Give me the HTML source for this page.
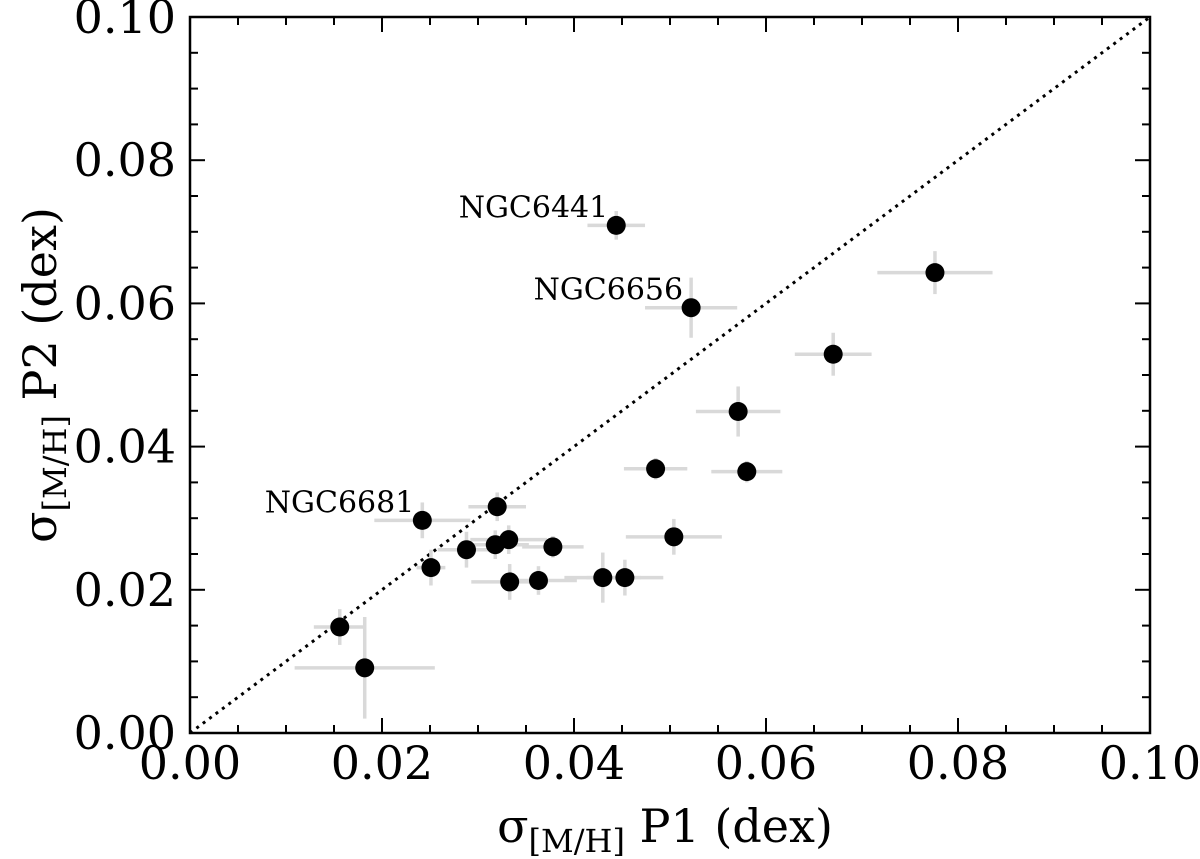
<!DOCTYPE html>
<html><head><meta charset="utf-8"><style>
html,body{margin:0;padding:0;background:#fff}
svg{display:block;font-family:"DejaVu Serif","Liberation Serif",serif}
</style></head><body>
<svg id="chart" width="1200" height="859" viewBox="0 0 1200 859" xmlns="http://www.w3.org/2000/svg">
<g id="diag"></g>
<g id="errs"></g>
<g id="pts"></g>
<g id="labels"></g>
<g id="axes"></g>
<text x="665" y="842" font-size="46" text-anchor="middle">σ<tspan font-size="32" dy="10">[M/H]</tspan><tspan dy="-10"> P1 (dex)</tspan></text>
<text transform="translate(56,375) rotate(-90)" font-size="46" text-anchor="middle">σ<tspan font-size="32" dy="10">[M/H]</tspan><tspan dy="-10"> P2 (dex)</tspan></text>
</svg>
<script>
const xVals=[0.0444,0.0522,0.0776,0.0670,0.0571,0.0485,0.0580,0.0242,0.0320,0.0504,0.0288,0.0318,0.0332,0.0378,0.0251,0.0333,0.0363,0.0430,0.0453,0.0156,0.0182];
const yVals=[0.0709,0.0594,0.0643,0.0529,0.0449,0.0369,0.0365,0.0297,0.0316,0.0274,0.0256,0.0263,0.0270,0.0260,0.0231,0.0211,0.0213,0.0217,0.0217,0.0148,0.0091];
const xErr=[0.0030,0.0048,0.0060,0.0040,0.0044,0.0033,0.0037,0.0050,0.0030,0.0050,0.0030,0.0035,0.0040,0.0032,0.0015,0.0040,0.0040,0.0040,0.0040,0.0027,0.0073];
const yErr=[0.0020,0.0042,0.0030,0.0030,0.0035,0.0015,0.0015,0.0025,0.0020,0.0025,0.0025,0.0020,0.0020,0.0015,0.0025,0.0025,0.0020,0.0035,0.0025,0.0025,0.0071];
const labelNames=["NGC6441","NGC6656","NGC6681"];
const labelIdx=[0,1,7];
const tickVals=[0,0.02,0.04,0.06,0.08,0.10];
const tickLabels=["0.00","0.02","0.04","0.06","0.08","0.10"];
const L=190,R=1150,T=17,B=733;
const sx=v=>L+(v/0.1)*(R-L), sy=v=>B-(v/0.1)*(B-T);
const NS="http://www.w3.org/2000/svg";
function mk(tag,attrs,parent){const e=document.createElementNS(NS,tag);for(const k in attrs)e.setAttribute(k,attrs[k]);parent.appendChild(e);return e;}
const diag=document.getElementById('diag');
const dl=mk('line',{x1:sx(0),y1:sy(0),x2:sx(0.1),y2:sy(0.1),stroke:'#000','stroke-width':3,'stroke-dasharray':'3,5'},diag);


const errs=document.getElementById('errs'),pts=document.getElementById('pts'),labs=document.getElementById('labels');
xVals.forEach((x,i)=>{
 const y=yVals[i];
 const h=mk('line',{x1:sx(x-xErr[i]),x2:sx(x+xErr[i]),y1:sy(y),y2:sy(y),stroke:'#d9d9d9','stroke-width':3.5},errs);
 
 
 const v=mk('line',{x1:sx(x),x2:sx(x),y1:sy(y-yErr[i]),y2:sy(y+yErr[i]),stroke:'#d9d9d9','stroke-width':3.5},errs);
 
 
 const c=mk('circle',{cx:sx(x),cy:sy(y),r:9.5,fill:'#000'},pts);
 
 
});
labelNames.forEach((n,j)=>{
 const i=labelIdx[j];
 const t=mk('text',{x:sx(xVals[i])-8,y:sy(yVals[i])-8,'font-size':30,'text-anchor':'end'},labs);
 t.textContent=n;
 
 
});
const ax=document.getElementById('axes');
const fr=mk('rect',{x:L,y:T,width:R-L,height:B-T,fill:'none',stroke:'#000','stroke-width':2.5},ax);


for(let k=0;k<=20;k++){
 const v=k*0.005, major=k%4===0, len=major?15:8;
 const X=sx(v),Y=sy(v);
 [[X,B,X,B-len],[X,T,X,T+len],[L,Y,L+len,Y],[R,Y,R-len,Y]].forEach(c=>{
  const l=mk('line',{x1:c[0],y1:c[1],x2:c[2],y2:c[3],stroke:'#000','stroke-width':2},ax);
  
  
 });
}
tickVals.forEach((v,i)=>{
 const tx=mk('text',{x:sx(v),y:B+46,'font-size':46,'text-anchor':'middle'},ax);
 tx.textContent=tickLabels[i];
 
 
 const ty=mk('text',{x:L-14,y:sy(v)+16,'font-size':46,'text-anchor':'end'},ax);
 ty.textContent=tickLabels[i];
 
 
});
</script>
</body></html>
